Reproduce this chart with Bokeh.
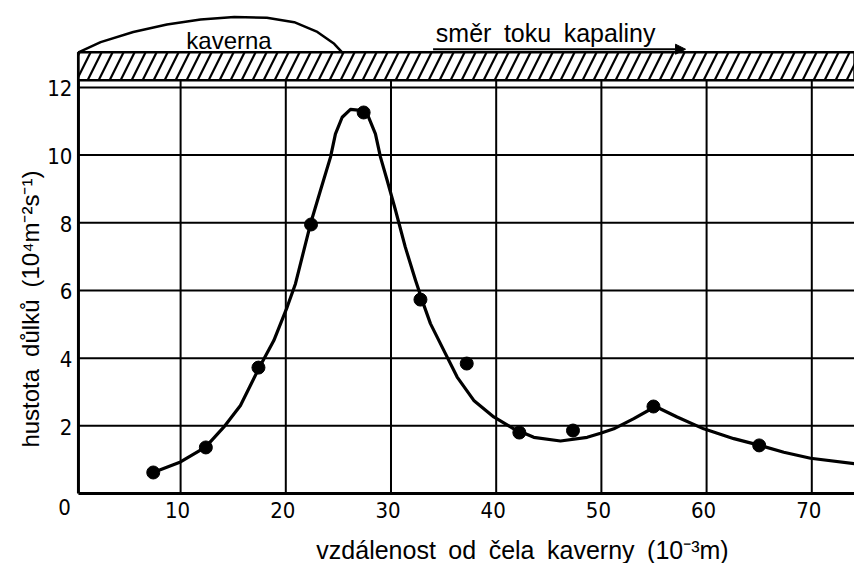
from bokeh.plotting import figure
from bokeh.models import Arrow, NormalHead, Range1d
from bokeh.core.properties import value
from bokeh.embed import file_html
from bokeh.resources import INLINE
import math

# ---- data ----
x_ticks = [10, 20, 30, 40, 50, 60, 70]
x_tick_labels = ["10", "20", "30", "40", "50", "60", "70"]
y_ticks = [2, 4, 6, 8, 10, 12]
y_tick_labels = ["2", "4", "6", "8", "10", "12"]

# measured points (distance 10^-3 m, hole density 10^4 m^-2 s^-1)
pts_x = [7.4, 12.4, 17.4, 22.4, 27.4, 32.8, 37.2, 42.2, 47.3, 54.95, 65.0]
pts_y = [0.62, 1.36, 3.72, 7.95, 11.26, 5.73, 3.84, 1.80, 1.86, 2.57, 1.42]

# hand-drawn fitted curve
curve_x = [7.45, 9.99, 12.37, 14.1, 15.69, 17.43, 18.86, 20.13, 20.92, 22.35, 23.30,
           24.25, 24.72, 25.36, 26.15, 27.10, 27.74, 28.52, 29.0, 29.64, 30.43, 31.36,
           32.33, 32.97, 33.75, 35.02, 36.29, 37.87, 39.77, 41.67, 43.57, 46.11, 48.65,
           49.92, 51.18, 53.08, 55.14, 57.20, 59.73, 62.59, 65.06, 67.34, 69.88, 74.06]
curve_y = [0.63, 0.93, 1.37, 1.96, 2.60, 3.69, 4.52, 5.51, 6.20, 7.97, 8.96,
           9.94, 10.63, 11.12, 11.35, 11.32, 11.22, 10.63, 9.94, 9.25, 8.37, 7.28,
           6.30, 5.70, 5.02, 4.23, 3.44, 2.75, 2.26, 1.91, 1.66, 1.55, 1.66,
           1.78, 1.91, 2.21, 2.57, 2.26, 1.91, 1.62, 1.42, 1.22, 1.04, 0.88]

# cavity outline above the wall
kav_x = [0.29, 2.4, 5.5, 8.7, 11.9, 15.1, 18.2, 20.8, 23.0, 24.6, 25.4]
kav_y = [13.04, 13.34, 13.64, 13.86, 14.01, 14.08, 14.06, 13.93, 13.64, 13.29, 13.02]

x_axis_pos = 0.29
x_lo, x_hi = -7.12, 74.06
y_lo, y_hi = -2.07, 14.57
wall_bottom, wall_top = 12.21, 13.04

NUM_FONT = "Liberation Sans Narrow, DejaVu Sans Condensed, Liberation Sans, sans-serif"
TXT_FONT = "Liberation Sans, Arial, sans-serif"
SP = "\u2002"

p = figure(width=854, height=563, output_backend="svg", toolbar_location=None,
           x_range=Range1d(x_lo, x_hi), y_range=Range1d(y_lo, y_hi),
           x_axis_type=None, y_axis_type=None,
           min_border_left=0, min_border_right=0, min_border_top=0,
           min_border_bottom=0)
p.outline_line_color = None
p.grid.visible = False
p.border_fill_color = "white"
p.background_fill_color = "white"

# grid lines
n = len(x_ticks)
p.segment(x0=x_ticks, y0=[0] * n, x1=x_ticks, y1=[wall_bottom] * n,
          line_color="black", line_width=2)
m = len(y_ticks)
p.segment(x0=[x_axis_pos] * m, y0=y_ticks, x1=[x_hi] * m, y1=y_ticks,
          line_color="black", line_width=2)

# axes lines
p.segment(x0=[x_axis_pos, x_axis_pos], y0=[0, 0], x1=[x_hi, x_axis_pos], y1=[0, wall_top],
          line_color="black", line_width=3)

# tick labels
p.text(x=x_ticks, y=[-0.5] * n, text=x_tick_labels, text_font=value(NUM_FONT),
       text_font_size="22px", text_align="center", text_baseline="middle",
       x_offset=-3, text_color="black")
p.text(x=[x_axis_pos] * m, y=y_ticks, text=y_tick_labels, text_font=value(NUM_FONT),
       text_font_size="22px", text_align="right", text_baseline="middle",
       x_offset=-6, y_offset=1, text_color="black")
p.text(x=[-1.04], y=[-0.41], text=["0"], text_font=value(NUM_FONT),
       text_font_size="22px", text_align="center", text_baseline="middle",
       text_color="black")

# hatched wall
p.quad(left=[x_axis_pos], right=[x_hi], bottom=[wall_bottom], top=[wall_top],
       fill_color="white", hatch_pattern="/", hatch_color="black",
       hatch_weight=2.2, hatch_scale=22, line_color="black", line_width=2.5)

# cavity
p.line(kav_x, kav_y, line_color="black", line_width=2.5)

# curve and points
p.line(curve_x, curve_y, line_color="black", line_width=3.2, line_join="round")
p.scatter(pts_x, pts_y, size=13, color="black")

# flow arrow
p.add_layout(Arrow(end=NormalHead(size=10, fill_color="black", line_color="black"),
                   x_start=34.0, y_start=13.13, x_end=58.0, y_end=13.13,
                   line_color="black", line_width=2))

# texts
def txt(x, y, s, size="25px", angle=0.0):
    p.text(x=[x], y=[y], text=[s], text_font=value(TXT_FONT), text_font_size=size,
           text_align="center", text_baseline="middle", angle=angle, text_color="black")

txt(14.6, 13.40, "kaverna", size="24px")
txt(44.7, 13.62, SP.join(["směr", "toku", "kapaliny"]))
txt(42.5, -1.68, SP.join(["vzdálenost", "od", "čela", "kaverny", "(10⁻³m)"]))
txt(-4.27, 5.45, SP.join(["hustota", "důlků", "(10⁴m⁻²s⁻¹)"]), size="24px", angle=math.pi / 2)

open("out.html", "w").write(file_html(p, INLINE))
